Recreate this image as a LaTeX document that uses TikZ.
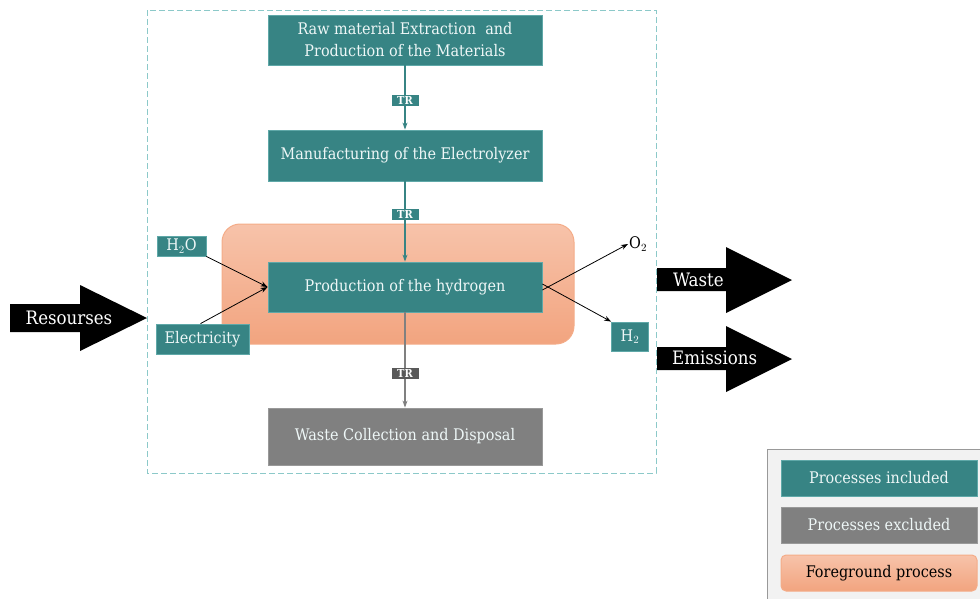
\documentclass[tikz,border=0pt]{standalone}
\usepackage{fontspec}
\setmainfont{DejaVu Serif Condensed}
\usetikzlibrary{arrows.meta,shapes.geometric}
\definecolor{teal1}{HTML}{378484}
\definecolor{tealline}{HTML}{5FA8A8}
\definecolor{dashc}{HTML}{8CC9C9}
\definecolor{gray1}{HTML}{808080}
\definecolor{gray2}{HTML}{595959}
\definecolor{ortop}{HTML}{F7C3AA}
\definecolor{orbot}{HTML}{F2A47F}
\definecolor{orline}{HTML}{F4AC88}
\definecolor{txtl}{HTML}{EEF7F7}
\definecolor{legbg}{HTML}{F2F2F2}
\tikzset{
  incl/.style={draw=tealline, line width=0.8pt, fill=teal1, text=txtl, inner sep=0pt, align=center, font=\fontsize{16}{22}\selectfont},
  excl/.style={draw=gray1!80, line width=0.8pt, fill=gray1, text=txtl, inner sep=0pt, align=center, font=\fontsize{16}{22}\selectfont},
  trlab/.style={fill=teal1, text=white, inner sep=0pt, minimum width=27pt, minimum height=11pt, font=\fontsize{11}{11}\selectfont\bfseries},
  flowt/.style={-{Stealth[length=7pt,width=5pt]}, line width=1.2pt, draw=teal1},
  thinar/.style={-{Stealth[length=7pt,width=5pt]}, line width=0.8pt, draw=black},
  bigar/.style={fill=black, draw=none},
  bigtxt/.style={text=white, font=\fontsize{18.5}{22}\selectfont, inner sep=0pt},
}
\begin{document}
\begin{tikzpicture}[x=1pt,y=-1pt]
\useasboundingbox (0,0) rectangle (980,598);
% system boundary
\draw[dashc, line width=1pt, dash pattern=on 6pt off 3pt] (147,10) rectangle (656,473);
% foreground process
\node[draw=orline, line width=1pt, rounded corners=18pt, top color=ortop, bottom color=orbot, minimum width=352pt, minimum height=120pt, inner sep=0pt] (fg) at (398,284) {};
% process boxes
\node[incl, minimum width=274pt, minimum height=50pt] (raw) at (405,40) {Raw material Extraction\ \ and\\Production of the Materials};
\node[incl, minimum width=274pt, minimum height=51pt] (manu) at (405,155.5) {Manufacturing of the Electrolyzer};
\node[incl, minimum width=274pt, minimum height=50pt] (prod) at (405,287) {Production of the hydrogen};
\node[excl, minimum width=274pt, minimum height=57pt] (wst) at (405,436.5) {Waste Collection and Disposal};
\node[incl, minimum width=49pt, minimum height=20pt] (h2o) at (181.5,246) {H$_2$O};
\node[incl, minimum width=93pt, minimum height=30pt] (elec) at (202.5,339) {Electricity};
\node[incl, minimum width=37pt, minimum height=29pt] (h2) at (630,336.5) {H$_2$};
\node[font=\fontsize{16}{20}\selectfont, inner sep=1pt, anchor=west] (o2) at (628,244) {O$_2$};
% flows
\draw[flowt] (raw) -- (manu);
\draw[flowt] (manu) -- (prod);
\draw[flowt, draw=gray1] (prod) -- (wst);
\node[trlab] (tr1) at (405,100) {TR};
\node[trlab] (tr2) at (405,214) {TR};
\node[trlab, fill=gray2] (tr3) at (405,373) {TR};
\draw[thinar] (h2o.south east) -- (prod.west);
\draw[thinar] ([xshift=-2pt]elec.north) -- (prod.west);
\draw[thinar] ([yshift=-3pt]prod.east) -- (o2.west);
\draw[thinar] ([yshift=3pt]prod.east) -- (h2.north west);
% big arrows
\fill[bigar] (10,304) -- (80,304) -- (80,285) -- (147,318) -- (80,351) -- (80,332) -- (10,332) -- cycle;
\node[bigtxt] (res) at (69,318) {Resourses};
\fill[bigar] (657,268) -- (726,268) -- (726,247) -- (792,280) -- (726,313) -- (726,291) -- (657,291) -- cycle;
\node[bigtxt, anchor=west] (wtxt) at (673,280) {Waste};
\fill[bigar] (657,347) -- (726,347) -- (726,326) -- (792,359) -- (726,392) -- (726,370) -- (657,370) -- cycle;
\node[bigtxt, anchor=west] (etxt) at (672,358) {Emissions};
% legend
\node[draw=gray1!80, line width=1pt, fill=legbg, minimum width=225pt, minimum height=160pt, anchor=north west, inner sep=0pt] (leg) at (767,449) {};
\node[incl, minimum width=196pt, minimum height=36pt] (l1) at (879,478) {Processes included};
\node[excl, minimum width=196pt, minimum height=36pt] (l2) at (879,525) {Processes excluded};
\node[draw=orline, line width=1pt, rounded corners=5pt, top color=ortop, bottom color=orbot, minimum width=196pt, minimum height=36pt, inner sep=0pt, font=\fontsize{16}{20}\selectfont] (l3) at (879,573) {Foreground process};
\end{tikzpicture}
\end{document}
